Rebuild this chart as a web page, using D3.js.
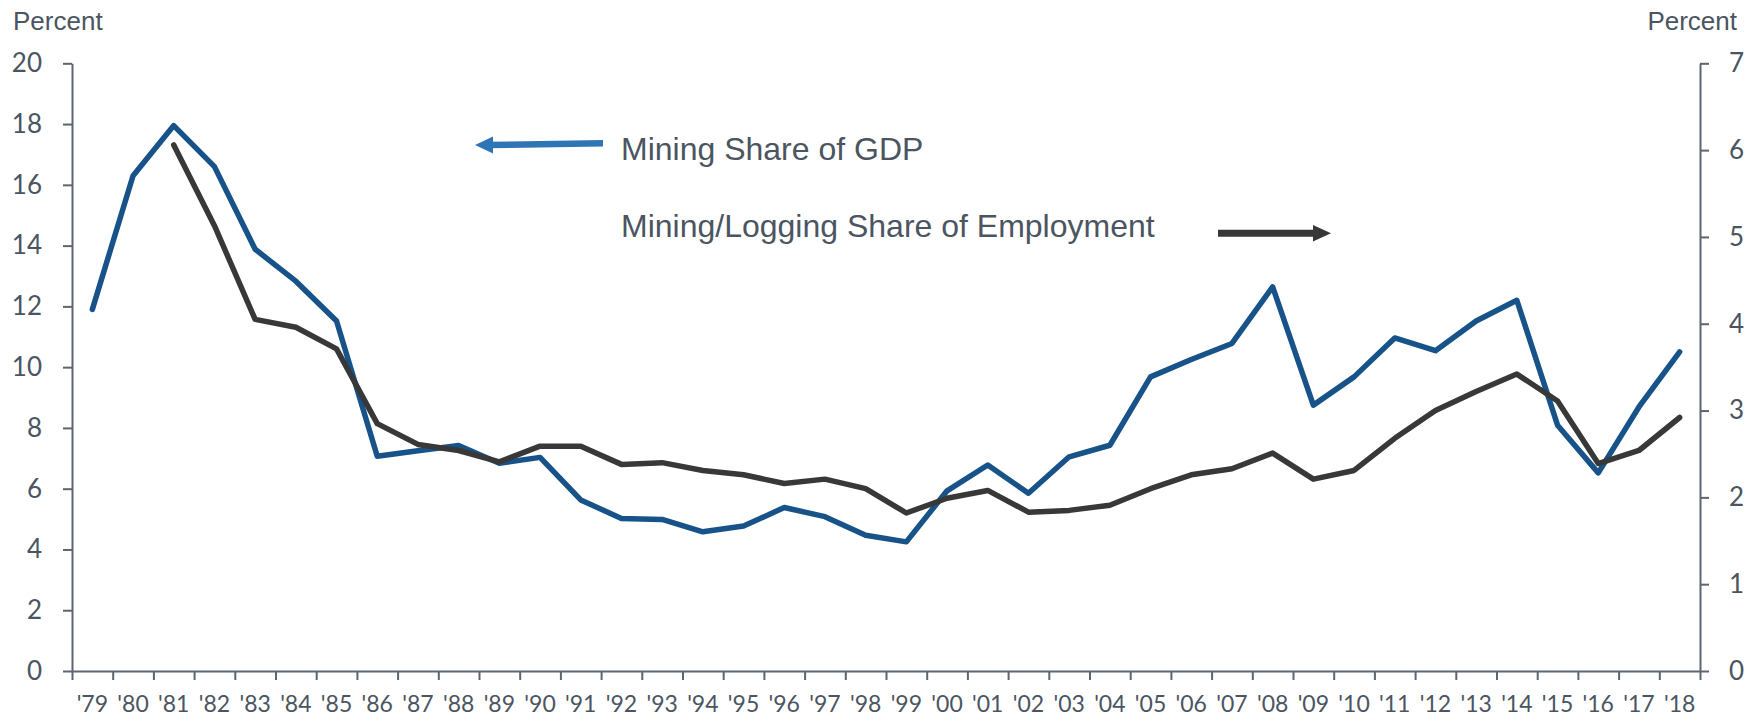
<!DOCTYPE html>
<html lang="en">
<head>
    <meta charset="UTF-8">
    <title>Mining share of GDP and employment</title>
    <style>
        body { margin: 0; background: #fff; }
        svg { display: block; }
    </style>
</head>
<body>
    <svg id="container" width="1749" height="717"></svg>

<script src="https://cdn.jsdelivr.net/npm/d3@7"></script>
<script>
    // year labels on the x axis
    let years = ["'79","'80","'81","'82","'83","'84","'85","'86","'87","'88",
                 "'89","'90","'91","'92","'93","'94","'95","'96","'97","'98",
                 "'99","'00","'01","'02","'03","'04","'05","'06","'07","'08",
                 "'09","'10","'11","'12","'13","'14","'15","'16","'17","'18"]

    // mining share of GDP, percent (left axis)
    let gdpShare = [11.9, 16.3, 17.95, 16.6, 13.88, 12.83, 11.52, 7.07, 7.25, 7.42,
                    6.84, 7.03, 5.63, 5.02, 4.99, 4.58, 4.77, 5.38, 5.08, 4.47,
                    4.25, 5.93, 6.78, 5.85, 7.05, 7.43, 9.68, 10.25, 10.78, 12.64,
                    8.75, 9.68, 10.96, 10.54, 11.52, 12.2, 8.09, 6.52, 8.69, 10.5]

    // mining/logging share of employment, percent (right axis)
    let empShare = [null, null, 6.06, 5.13, 4.05, 3.96, 3.71, 2.85, 2.61, 2.54,
                    2.41, 2.59, 2.59, 2.38, 2.40, 2.31, 2.26, 2.16, 2.21, 2.10,
                    1.82, 1.99, 2.08, 1.83, 1.85, 1.91, 2.10, 2.26, 2.33, 2.51,
                    2.21, 2.31, 2.68, 3.00, 3.22, 3.42, 3.11, 2.39, 2.54, 2.92]

    let leftTicks = [0, 2, 4, 6, 8, 10, 12, 14, 16, 18, 20]
    let rightTicks = [0, 1, 2, 3, 4, 5, 6, 7]

    let axisColor = "#5b6670"
    let textColor = "#4b5561"
    let blue = "#175389"
    let dark = "#383838"

    let plotLeft = 72, plotRight = 1700, plotTop = 63.3, plotBottom = 671

    let svg = d3.select("#container")

    let x = d3.scaleBand().domain(years).range([plotLeft, plotRight]).padding(0)
    let xEdge = d3.scaleLinear().domain([0, years.length]).range([plotLeft, plotRight])
    let yLeft = d3.scaleLinear().domain([0, 20]).range([plotBottom, plotTop])
    let yRight = d3.scaleLinear().domain([0, 7]).range([plotBottom, plotTop])

    function styleAxis(g) {
        g.select(".domain").attr("stroke", axisColor).attr("stroke-width", 2)
        g.selectAll(".tick line").attr("stroke", axisColor).attr("stroke-width", 2)
        g.selectAll("text").attr("fill", textColor)
    }

    // left axis
    svg.append("g")
        .attr("transform", `translate(${plotLeft},0)`)
        .call(d3.axisLeft(yLeft).tickValues(leftTicks).tickFormat(d3.format("d"))
            .tickSize(9).tickSizeOuter(0).tickPadding(21))
        .call(styleAxis)
        .call(g => g.selectAll("text").style("font", "26px Lato"))

    // right axis
    svg.append("g")
        .attr("transform", `translate(${plotRight},0)`)
        .call(d3.axisRight(yRight).tickValues(rightTicks).tickFormat(d3.format("d"))
            .tickSize(9).tickSizeOuter(0).tickPadding(20))
        .call(styleAxis)
        .call(g => g.selectAll("text").style("font", "26px Lato"))

    // bottom axis: ticks at the year boundaries, labels in the middle
    svg.append("g")
        .attr("transform", `translate(0,${plotBottom})`)
        .call(d3.axisBottom(xEdge).tickValues(d3.range(years.length + 1)).tickFormat("").tickSize(9).tickSizeOuter(0))
        .call(styleAxis)

    svg.append("g")
        .attr("transform", `translate(0,${plotBottom})`)
        .call(d3.axisBottom(x).tickSize(0))
        .call(g => g.select(".domain").remove())
        .call(g => g.selectAll("text")
            .attr("fill", textColor)
            .attr("dy", null)
            .attr("y", 41)
            .style("font", "23px Lato"))

    // lines
    let gdpLine = d3.line()
        .defined(d => d != null)
        .x((d, i) => x(years[i]) + x.bandwidth() / 2)
        .y(d => yLeft(d))

    let empLine = d3.line()
        .defined(d => d != null)
        .x((d, i) => x(years[i]) + x.bandwidth() / 2)
        .y(d => yRight(d))

    svg.append("path")
        .attr("d", gdpLine(gdpShare))
        .attr("fill", "none")
        .attr("stroke", blue)
        .attr("stroke-width", 5.5)
        .attr("stroke-linejoin", "round")
        .attr("stroke-linecap", "round")

    svg.append("path")
        .attr("d", empLine(empShare))
        .attr("fill", "none")
        .attr("stroke", dark)
        .attr("stroke-width", 5.5)
        .attr("stroke-linejoin", "round")
        .attr("stroke-linecap", "round")

    // "Percent" labels
    svg.append("text")
        .attr("x", 13).attr("y", 29.5)
        .attr("fill", textColor)
        .style("font", "26px 'Liberation Sans', Arial, sans-serif")
        .text("Percent")

    svg.append("text")
        .attr("x", 1737).attr("y", 29.5)
        .attr("text-anchor", "end")
        .attr("fill", textColor)
        .style("font", "26px 'Liberation Sans', Arial, sans-serif")
        .text("Percent")

    // legend labels
    svg.append("text")
        .attr("x", 621).attr("y", 160)
        .attr("fill", textColor)
        .style("font", "32px 'Liberation Sans', Arial, sans-serif")
        .text("Mining Share of GDP")

    svg.append("text")
        .attr("x", 621).attr("y", 236.7)
        .attr("fill", textColor)
        .style("font", "32px 'Liberation Sans', Arial, sans-serif")
        .text("Mining/Logging Share of Employment")

    // arrows
    svg.append("line")
        .attr("x1", 603).attr("y1", 143.3).attr("x2", 488).attr("y2", 145)
        .attr("stroke", "#2e75b6").attr("stroke-width", 6.5)
    svg.append("path")
        .attr("d", "M475,145 L493,136.5 L493,153.5 Z")
        .attr("fill", "#2e75b6")

    svg.append("line")
        .attr("x1", 1218).attr("y1", 233.3).attr("x2", 1316).attr("y2", 233.3)
        .attr("stroke", dark).attr("stroke-width", 7)
    svg.append("path")
        .attr("d", "M1331,233.3 L1313,225 L1313,241.6 Z")
        .attr("fill", dark)
</script>
</body>
</html>
